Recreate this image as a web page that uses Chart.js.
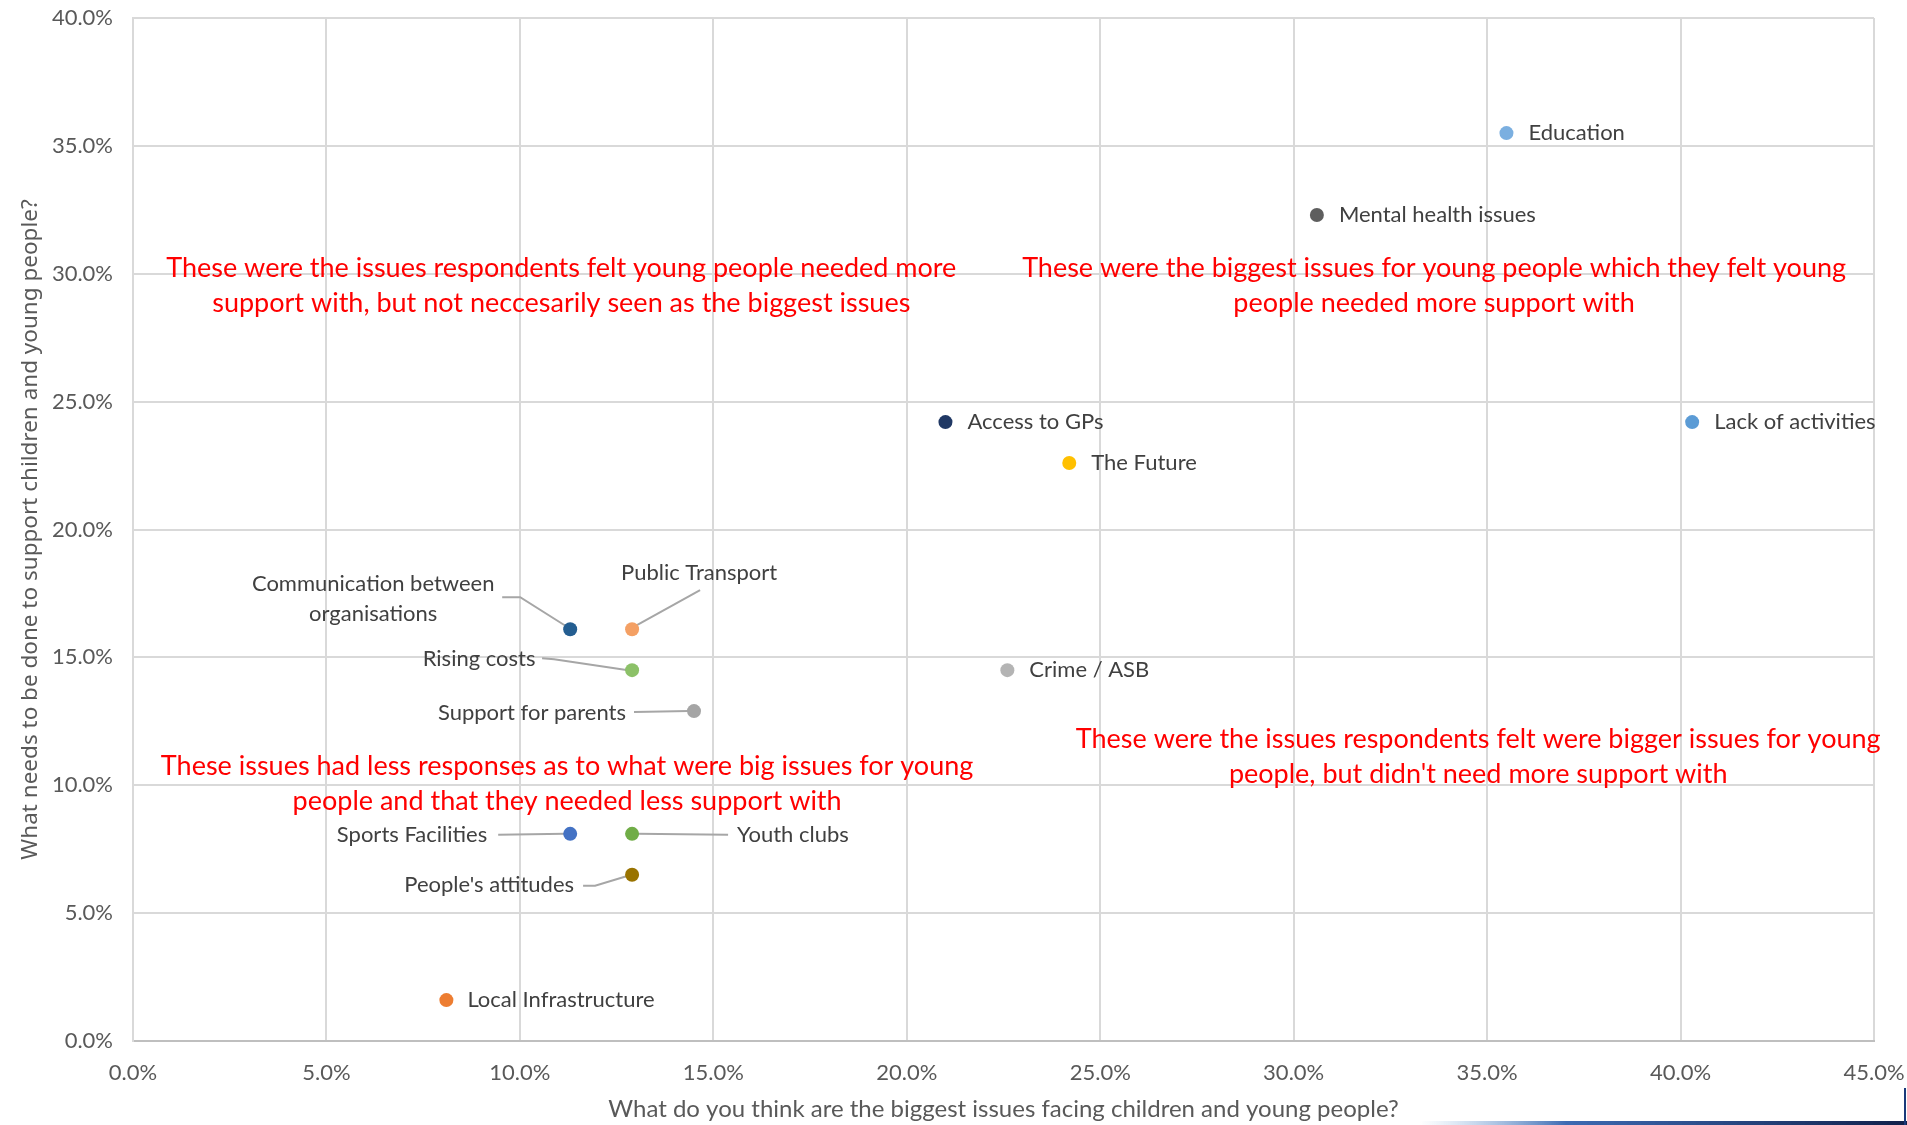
<!DOCTYPE html>
<html>
<head>
<meta charset="utf-8">
<script src="https://cdn.jsdelivr.net/npm/chart.js@4.4.1/dist/chart.umd.min.js"></script>
<style>
html,body{margin:0;padding:0;background:#ffffff;overflow:hidden}
#wrap{width:1907px;height:1125px;position:relative}
canvas{display:block}
</style>
</head>
<body>
<div id="wrap"><canvas id="c" width="1907" height="1125"></canvas></div>
<script>
// ---------------- DATA ----------------
const issues = [
  "Education", "Mental health issues", "Access to GPs", "Lack of activities",
  "The Future", "Crime / ASB", "Communication between organisations",
  "Public Transport", "Rising costs", "Support for parents",
  "Sports Facilities", "Youth clubs", "People's attitudes", "Local Infrastructure"
];
// x: What do you think are the biggest issues facing children and young people? (%)
const biggestIssue = [35.5, 30.6, 21.0, 40.3, 24.2, 22.6, 11.3, 12.9, 12.9, 14.5, 11.3, 12.9, 12.9, 8.1];
// y: What needs to be done to support children and young people? (%)
const supportNeeded = [35.5, 32.3, 24.2, 24.2, 22.6, 14.5, 16.1, 16.1, 14.5, 12.9, 8.1, 8.1, 6.5, 1.6];
const xTickValues = [0, 5, 10, 15, 20, 25, 30, 35, 40, 45];
const yTickValues = [0, 5, 10, 15, 20, 25, 30, 35, 40];
const xTitle = "What do you think are the biggest issues facing children and young people?";
const yTitle = "What needs to be done to support children and young people?";
const quadrantNotes = [
  ["These were the issues respondents felt young people needed more", "support with, but not neccesarily seen as the biggest issues"],
  ["These were the biggest issues for young people which they felt young", "people needed more support with"],
  ["These were the issues respondents felt were bigger issues for young", "people, but didn't need more support with"],
  ["These issues had less responses as to what were big issues for young", "people and that they needed less support with"]
];

// ---------------- STYLE / LAYOUT ----------------
const pointColors = ["#7BAFE0", "#5E5E5E", "#203864", "#5B9BD5", "#FFC000", "#B4B4B4",
  "#245E91", "#F4A064", "#8CC168", "#A5A5A5", "#4472C4", "#70AD47", "#997300", "#ED7D31"];
const FONT = "Lato, 'Liberation Sans', sans-serif";
const labelLayout = [
  {dx: 22, dy: 0, align: "left"},
  {dx: 22, dy: 0, align: "left"},
  {dx: 22, dy: 0, align: "left"},
  {dx: 22, dy: 0, align: "left"},
  {dx: 22, dy: 0, align: "left"},
  {dx: 22, dy: 0, align: "left"},
  {dx: -197, dy: -30, align: "center", lines: ["Communication between", "organisations"], leader: [[-68, -32], [-50, -32], [-4, -3]]},
  {dx: 67, dy: -56, align: "center", leader: [[3, -3], [68, -39]]},
  {dx: -153, dy: -11, align: "center", leader: [[-90, -12], [-78, -11], [-4, 0]]},
  {dx: -68, dy: 2, align: "right", leader: [[-60, 1], [-5, 0]]},
  {dx: -83, dy: 1, align: "right", leader: [[-72, 1], [-5, 0]]},
  {dx: 105, dy: 1, align: "left", leader: [[5, 0], [96, 1]]},
  {dx: -58, dy: 10, align: "right", leader: [[-49, 11], [-37, 11], [-4, 1]]},
  {dx: 21, dy: 0, align: "left"}
];
// anchor of each note's first line centre, in axis units
const noteAnchors = [[11.07, 30.23], [33.63, 30.2], [34.77, 11.81], [11.22, 10.76]];

const labelPlugin = {
  id: "pointLabels",
  beforeDatasetsDraw(chart) {
    const ctx = chart.ctx;
    const meta = chart.getDatasetMeta(0);
    ctx.save();
    ctx.strokeStyle = "#A6A6A6";
    ctx.lineWidth = 2;
    labelLayout.forEach((lay, i) => {
      if (!lay.leader) return;
      const p = meta.data[i];
      ctx.beginPath();
      lay.leader.forEach(([dx, dy], k) => {
        if (k === 0) ctx.moveTo(p.x + dx, p.y + dy); else ctx.lineTo(p.x + dx, p.y + dy);
      });
      ctx.stroke();
    });
    ctx.restore();
  },
  afterDatasetsDraw(chart) {
    const ctx = chart.ctx;
    const meta = chart.getDatasetMeta(0);
    const xs = chart.scales.x, ys = chart.scales.y;
    ctx.save();
    ctx.font = "22px " + FONT;
    ctx.fillStyle = "#404040";
    ctx.textBaseline = "middle";
    labelLayout.forEach((lay, i) => {
      const p = meta.data[i];
      const lines = lay.lines || [issues[i]];
      ctx.textAlign = lay.align;
      const lh = 30;
      const y0 = p.y + lay.dy - (lines.length - 1) * lh / 2;
      lines.forEach((t, k) => ctx.fillText(t, p.x + lay.dx, y0 + k * lh));
    });
    ctx.font = "27px " + FONT;
    ctx.fillStyle = "#FF0000";
    ctx.textAlign = "center";
    quadrantNotes.forEach((lines, i) => {
      const cx = xs.getPixelForValue(noteAnchors[i][0]);
      const cy = ys.getPixelForValue(noteAnchors[i][1]);
      lines.forEach((t, k) => ctx.fillText(t, cx, cy + k * 35));
    });
    ctx.restore();
  },
  afterDraw(chart) {
    const ctx = chart.ctx;
    ctx.save();
    const g = ctx.createLinearGradient(1420, 0, 1907, 0);
    g.addColorStop(0, "rgba(120,170,220,0)");
    g.addColorStop(0.3, "rgba(40,90,170,0.9)");
    g.addColorStop(1, "#10204a");
    ctx.fillStyle = g;
    ctx.fillRect(1420, 1121, 487, 4);
    ctx.fillStyle = "#1a3a7a";
    ctx.fillRect(1904, 1088, 2, 37);
    ctx.restore();
  }
};

function pct(v) { return Number(v).toFixed(1) + "%"; }
function noPad(s) { s.paddingTop = 0; s.paddingBottom = 0; s.paddingLeft = 0; s.paddingRight = 0; }

const chart = new Chart(document.getElementById("c"), {
  type: "scatter",
  data: {
    datasets: [{
      data: biggestIssue.map((x, i) => ({x: x, y: supportNeeded[i]})),
      pointBackgroundColor: pointColors,
      pointBorderColor: pointColors,
      pointRadius: 7,
      pointHoverRadius: 7,
      pointBorderWidth: 0
    }]
  },
  options: {
    responsive: false,
    devicePixelRatio: 1,
    animation: false,
    layout: {padding: {top: 18, right: 33, left: 0, bottom: 0}},
    plugins: {legend: {display: false}, tooltip: {enabled: false}},
    scales: {
      x: {
        type: "linear", min: 0, max: 45,
        afterBuildTicks: s => { s.ticks = xTickValues.map(v => ({value: v})); },
        afterFit: s => { s.height = 84; noPad(s); },
        ticks: {callback: pct, color: "#595959", font: {family: FONT, size: 22}, padding: 19, maxRotation: 0},
        grid: {color: "#D9D9D9", lineWidth: 2, drawTicks: false},
        border: {color: "#BFBFBF", width: 2},
        title: {display: true, text: xTitle, color: "#595959", font: {family: FONT, size: 24}, padding: {top: 0, bottom: 1}}
      },
      y: {
        type: "linear", min: 0, max: 40,
        afterBuildTicks: s => { s.ticks = yTickValues.map(v => ({value: v})); },
        afterFit: s => { s.width = 133; noPad(s); },
        ticks: {callback: pct, color: "#595959", font: {family: FONT, size: 22}, padding: 20},
        grid: {color: "#D9D9D9", lineWidth: 2, drawTicks: false},
        border: {color: "#D9D9D9", width: 2},
        title: {display: true, text: yTitle, color: "#595959", font: {family: "'Noto Sans', 'Open Sans', sans-serif", size: 22.5}, padding: {top: 17, bottom: 0}}
      }
    }
  },
  plugins: [labelPlugin]
});
</script>
</body>
</html>
